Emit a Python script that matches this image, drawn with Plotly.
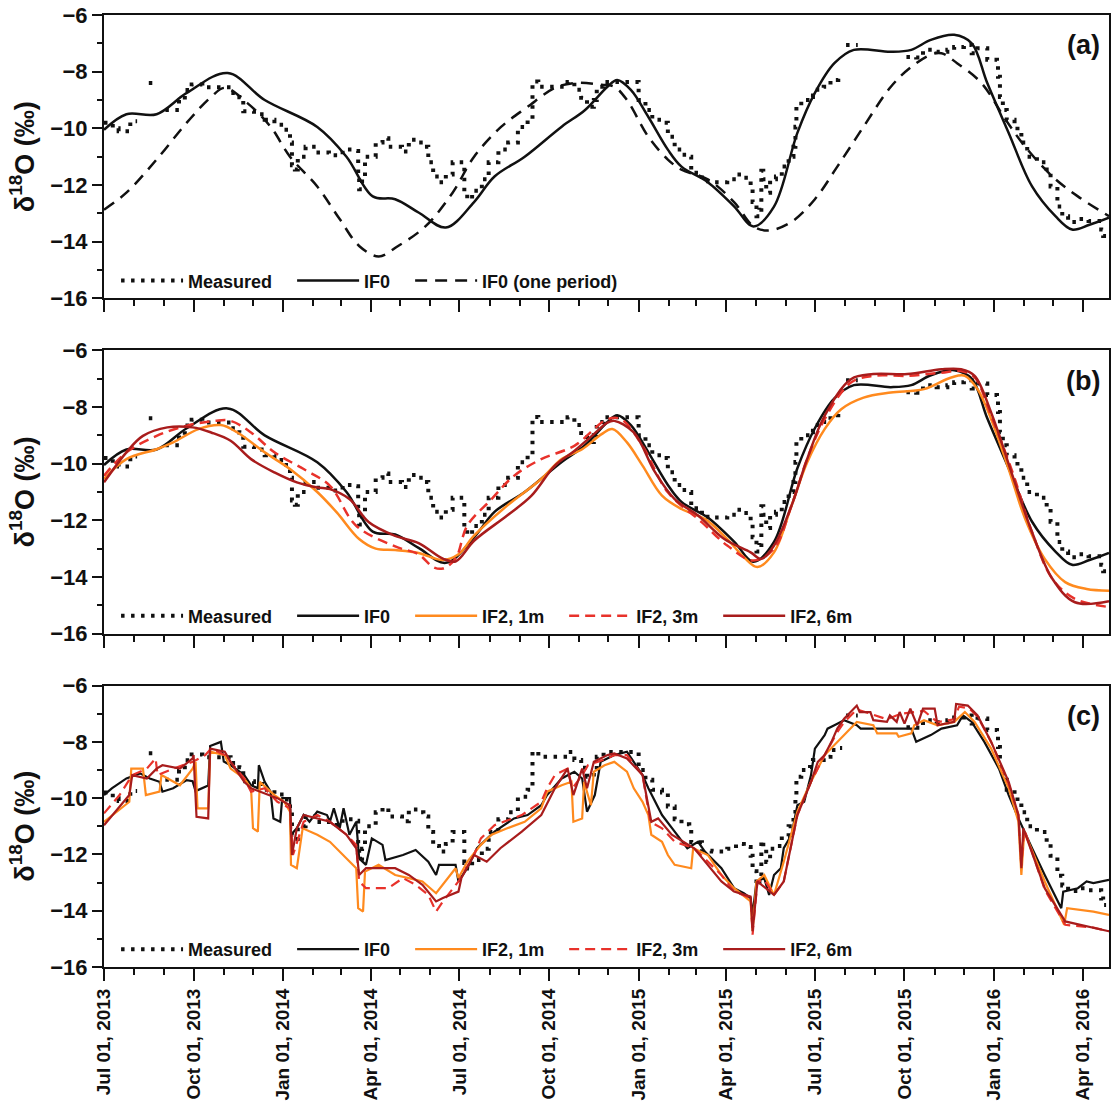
import plotly.graph_objects as go
from plotly.subplots import make_subplots

FONT = "Arial, 'Liberation Sans', Helvetica, sans-serif"

# ---------------- data ----------------
measured_dates = [
    "2013-07-01", "2013-07-10", "2013-07-16", "2013-07-28", "2013-08-04", "2013-08-10",
    "2013-08-16", "2013-08-25", "2013-08-28",
    "2013-09-02", "2013-09-16", "2013-09-22", "2013-09-29", "2013-10-10", "2013-11-08",
    "2013-11-17", "2013-11-21", "2013-12-02", "2013-12-13", "2013-12-23", "2014-01-02",
    "2014-01-08", "2014-01-10", "2014-01-13", "2014-01-16", "2014-01-24", "2014-02-04",
    "2014-02-17", "2014-03-03", "2014-03-16", "2014-03-19", "2014-03-20", "2014-03-23",
    "2014-03-26", "2014-04-06", "2014-04-13", "2014-04-19", "2014-05-03", "2014-05-10",
    "2014-05-20", "2014-05-25", "2014-05-30", "2014-06-04", "2014-06-10", "2014-06-17",
    "2014-06-24", "2014-07-06", "2014-07-09", "2014-07-14", "2014-07-24", "2014-07-31",
    "2014-08-10", "2014-08-20", "2014-08-30", "2014-09-09", "2014-09-14", "2014-09-20",
    "2014-10-20", "2014-10-27", "2014-11-03", "2014-11-09", "2014-11-16", "2014-11-19",
    "2014-11-26", "2015-01-01", "2015-01-08", "2015-01-15", "2015-01-25", "2015-01-31",
    "2015-02-07", "2015-02-14", "2015-02-22", "2015-02-24", "2015-03-07", "2015-03-17",
    "2015-04-02", "2015-04-11", "2015-04-19", "2015-04-26", "2015-04-28", "2015-05-02",
    "2015-05-05", "2015-05-07", "2015-05-09", "2015-05-12", "2015-05-16", "2015-05-22",
    "2015-05-28", "2015-06-04", "2015-06-09", "2015-06-11", "2015-06-12", "2015-06-17",
    "2015-06-26", "2015-06-29", "2015-07-10", "2015-07-17", "2015-07-25", "2015-07-29",
    "2015-07-31", "2015-08-02", "2015-08-14", "2015-08-20",
    "2015-10-03", "2015-10-13", "2015-10-20", "2015-11-03", "2015-11-14", "2015-11-21",
    "2015-12-01", "2015-12-09", "2015-12-15", "2015-12-25", "2016-01-04", "2016-01-05",
    "2016-01-07", "2016-01-10", "2016-01-14", "2016-01-22", "2016-01-25", "2016-01-29",
    "2016-02-04", "2016-02-14", "2016-02-24", "2016-02-28", "2016-03-06", "2016-03-11",
    "2016-03-17", "2016-03-27", "2016-04-07", "2016-04-20", "2016-04-22", "2016-04-25",
]
measured_vals = [
    -9.8, -10.0, -10.1, -9.75, -9.75, None,
    -8.4, -8.4, None,
    -9.35, -9.0, -8.65, -8.45, -8.55, -8.75,
    -8.9, -9.4, -9.5, -9.7, -9.87, -10.05,
    -10.5, -11.3, -11.45, -11.0, -10.65, -10.85,
    -10.95, -10.75, -10.8, -11.6, -12.15, -11.8,
    -11.0, -10.5, -10.35, -10.65, -10.82, -10.4,
    -10.5, -10.65, -11.2, -11.7, -11.9, -11.63,
    -11.2, -12.3, -12.5, -12.2, -11.8, -11.2,
    -10.75, -10.5, -9.95, -9.7, -8.35, -8.53,
    -8.36, -8.64, -8.92, -9.24, -9.0, -8.53,
    -8.36, -9.0, -9.35, -9.7, -9.8, -10.3,
    -10.75, -10.93, -11.0, -11.57, -11.87, -11.9,
    -11.8, -11.63, -11.74, -12.05, -12.6, -13.1,
    -12.87, -11.5, -11.8, -12.27, -11.8, -11.7,
    -11.35, -11.0, -10.65, -9.94, -9.24, -9.0,
    -8.89, -8.64, -8.53, -8.29, -8.22, -8.22,
    None, -7.06, -7.06, None,
    -7.48, -7.5, -7.23, -7.3, -7.23, -7.13,
    -7.06, -7.35, -7.17, -7.58, -7.65, -8.18,
    -8.89, -9.35, -9.7, -9.87, -10.16, -10.5,
    -11.0, -11.2, -11.57, -12.05, -12.76, -13.1,
    -13.3, -13.2, -13.27, -13.57, -13.8, -13.8,
]

if0_dates = [
    "2013-07-01", "2013-07-24", "2013-08-24", "2013-09-24", "2013-11-05", "2013-12-13",
    "2014-02-05", "2014-03-07", "2014-04-03", "2014-04-26", "2014-05-20", "2014-06-17",
    "2014-07-16", "2014-08-06", "2014-09-06", "2014-10-14", "2014-11-07", "2014-11-30",
    "2014-12-10", "2014-12-24", "2015-01-11", "2015-01-31", "2015-02-14", "2015-03-13",
    "2015-04-09", "2015-04-29", "2015-05-20", "2015-06-13", "2015-07-01", "2015-07-21",
    "2015-08-10", "2015-09-17", "2015-10-08", "2015-10-28", "2015-11-21", "2015-12-09",
    "2015-12-25", "2016-01-16", "2016-02-09", "2016-03-04", "2016-03-21", "2016-04-08",
    "2016-04-28",
]
if0_vals = [
    -10.05, -9.5, -9.5, -8.75, -8.05, -9.0,
    -9.95, -11.0, -12.4, -12.5, -12.97, -13.5,
    -12.6, -11.7, -11.0, -9.94, -9.35, -8.53,
    -8.29, -8.64, -9.6, -10.75, -11.35, -11.9,
    -12.75, -13.46, -12.76, -10.16, -8.75, -7.7,
    -7.23, -7.3, -7.23, -6.88, -6.7, -7.0,
    -8.4, -10.16, -12.05, -13.1, -13.57, -13.4,
    -13.15,
]

if0_one_dates = [
    "2013-07-01", "2013-07-24", "2013-08-24", "2013-09-24", "2013-10-19", "2013-11-02",
    "2013-11-25", "2013-12-19", "2014-01-08", "2014-02-05", "2014-02-28", "2014-03-20",
    "2014-04-09", "2014-04-29", "2014-05-27", "2014-06-24", "2014-07-16", "2014-08-13",
    "2014-09-09", "2014-10-07", "2014-10-27", "2014-11-24", "2014-12-07", "2014-12-20",
    "2015-01-11", "2015-01-31", "2015-02-14", "2015-03-13", "2015-04-09", "2015-04-29",
    "2015-05-15", "2015-06-07", "2015-07-01", "2015-07-24", "2015-08-20", "2015-09-17",
    "2015-10-08", "2015-10-28", "2015-11-08", "2015-11-24", "2015-12-19", "2016-01-13",
    "2016-02-02", "2016-03-01", "2016-03-27", "2016-04-28",
]
if0_one_vals = [
    -12.87, -12.27, -11.1, -9.8, -8.89, -8.57,
    -9.1, -9.94, -11.0, -12.05, -13.2, -14.15,
    -14.52, -14.15, -13.46, -12.27, -11.0, -9.94,
    -9.24, -8.57, -8.4, -8.46, -8.53, -9.0,
    -10.3, -11.1, -11.46, -11.8, -12.6, -13.46,
    -13.6, -13.3, -12.5, -11.35, -9.94, -8.53,
    -7.83, -7.4, -7.35, -7.7, -8.4, -9.7,
    -10.65, -11.7, -12.4, -13.1,
]

# panel (b): smooth IF2 curves
b1m_dates = [
    "2013-07-01", "2013-07-24", "2013-08-24", "2013-09-10", "2013-10-06", "2013-10-29",
    "2013-11-15", "2013-12-13", "2014-01-08", "2014-02-05", "2014-02-25", "2014-03-20",
    "2014-04-06", "2014-04-26", "2014-05-20", "2014-06-14", "2014-06-30", "2014-07-16",
    "2014-08-19", "2014-09-23", "2014-10-14", "2014-11-04", "2014-11-24", "2014-12-05",
    "2014-12-20", "2015-01-05", "2015-01-25", "2015-02-14", "2015-03-10", "2015-04-02",
    "2015-04-19", "2015-05-03", "2015-05-20", "2015-06-07", "2015-06-23", "2015-07-11",
    "2015-07-28", "2015-08-20", "2015-09-17", "2015-10-21", "2015-11-18", "2015-12-02",
    "2015-12-15", "2015-12-29", "2016-01-16", "2016-02-02", "2016-02-22", "2016-03-14",
    "2016-04-05", "2016-04-28",
]
b1m_vals = [
    -10.54, -9.84, -9.49, -9.25, -8.78, -8.64,
    -8.9, -9.6, -10.19, -11.0, -11.72, -12.66,
    -13.0, -13.05, -13.15, -13.4, -13.2, -12.54,
    -11.48, -10.54, -9.84, -9.49, -8.96, -8.78,
    -9.25, -10.07, -11.13, -11.6, -11.95, -12.66,
    -13.3, -13.65, -13.13, -11.48, -9.96, -8.78,
    -8.08, -7.67, -7.49, -7.37, -6.96, -6.9,
    -7.37, -8.43, -10.19, -11.95, -13.36, -14.18,
    -14.42, -14.48,
]

b3m_dates = [
    "2013-07-01", "2013-07-24", "2013-08-24", "2013-09-24", "2013-10-23", "2013-11-08",
    "2013-11-29", "2013-12-23", "2014-01-22", "2014-02-18", "2014-03-17", "2014-04-26",
    "2014-05-20", "2014-06-04", "2014-06-14", "2014-06-27", "2014-07-09", "2014-08-03",
    "2014-08-26", "2014-09-23", "2014-10-27", "2014-11-30", "2014-12-14", "2015-01-05",
    "2015-01-31", "2015-03-07", "2015-04-02", "2015-04-29", "2015-05-20", "2015-06-07",
    "2015-06-23", "2015-07-11", "2015-08-07", "2015-08-30", "2015-10-04", "2015-11-08",
    "2015-11-28", "2015-12-12", "2015-12-29", "2016-01-20", "2016-02-09", "2016-03-01",
    "2016-03-24", "2016-04-28",
]
b3m_vals = [
    -10.43, -9.6, -9.02, -8.66, -8.49, -8.49,
    -8.9, -9.6, -10.19, -10.78, -12.19, -12.92,
    -13.2, -13.65, -13.7, -13.35, -12.19, -11.25,
    -10.43, -9.84, -9.37, -8.43, -8.43, -9.37,
    -11.01, -12.07, -12.89, -13.42, -13.0, -11.48,
    -9.84, -8.43, -7.14, -6.9, -6.9, -6.79,
    -6.73, -6.96, -8.31, -10.31, -12.42, -14.07,
    -14.77, -15.06,
]

b6m_dates = [
    "2013-07-01", "2013-07-24", "2013-08-10", "2013-09-04", "2013-09-30", "2013-10-19",
    "2013-11-08", "2013-11-29", "2013-12-23", "2014-01-15", "2014-02-05", "2014-02-18",
    "2014-03-10", "2014-03-30", "2014-04-26", "2014-05-20", "2014-06-14", "2014-06-27",
    "2014-07-16", "2014-08-19", "2014-09-13", "2014-10-07", "2014-10-27", "2014-11-14",
    "2014-11-30", "2014-12-07", "2014-12-27", "2015-01-18", "2015-02-07", "2015-03-03",
    "2015-03-30", "2015-04-26", "2015-05-07", "2015-05-20", "2015-06-07", "2015-06-23",
    "2015-07-11", "2015-08-07", "2015-08-30", "2015-10-04", "2015-11-08", "2015-11-28",
    "2015-12-12", "2015-12-29", "2016-01-20", "2016-02-09", "2016-03-01", "2016-03-24",
    "2016-04-28",
]
b6m_vals = [
    -10.66, -9.6, -9.02, -8.72, -8.72, -8.9,
    -9.19, -9.84, -10.31, -10.66, -10.84, -10.9,
    -11.25, -12.07, -12.55, -12.8, -13.35, -13.45,
    -12.72, -11.83, -11.13, -10.07, -9.55, -9.02,
    -8.55, -8.49, -8.9, -10.31, -11.25, -11.83,
    -12.66, -13.13, -13.36, -12.89, -11.48, -9.84,
    -8.31, -7.02, -6.84, -6.84, -6.67, -6.67,
    -6.9, -8.2, -10.43, -12.42, -14.07, -14.89,
    -14.85,
]

# panel (c): daily-input runs (jagged)
c0_dates = [
    "2013-07-01", "2013-07-09", "2013-07-24", "2013-08-07", "2013-08-17", "2013-08-27",
    "2013-08-30", "2013-09-10", "2013-09-24", "2013-09-30", "2013-10-03", "2013-10-16",
    "2013-10-18", "2013-10-29", "2013-11-01", "2013-11-08", "2013-11-22", "2013-11-29",
    "2013-12-06", "2013-12-07", "2013-12-13", "2013-12-19", "2013-12-22", "2013-12-29",
    "2013-12-31", "2014-01-08", "2014-01-09", "2014-01-15", "2014-01-22", "2014-01-28",
    "2014-02-05", "2014-02-15", "2014-02-18", "2014-02-22", "2014-02-28", "2014-03-04",
    "2014-03-10", "2014-03-17", "2014-03-20", "2014-03-27", "2014-04-02", "2014-04-13",
    "2014-04-16", "2014-05-04", "2014-05-17", "2014-05-30", "2014-06-07", "2014-06-10",
    "2014-06-27", "2014-06-30", "2014-07-09", "2014-07-19", "2014-08-06", "2014-08-26",
    "2014-09-09", "2014-09-23", "2014-09-29", "2014-10-14", "2014-10-27", "2014-11-04",
    "2014-11-09", "2014-11-17", "2014-11-23", "2014-12-07", "2014-12-20", "2014-12-27",
    "2015-01-05", "2015-01-11", "2015-01-25", "2015-02-07", "2015-02-20", "2015-03-03",
    "2015-03-10", "2015-03-27", "2015-04-09", "2015-04-19", "2015-04-26", "2015-04-28",
    "2015-05-02", "2015-05-10", "2015-05-15", "2015-05-20", "2015-05-27", "2015-05-30",
    "2015-06-07", "2015-06-13", "2015-06-20", "2015-06-27", "2015-07-01", "2015-07-11",
    "2015-07-14", "2015-07-21", "2015-07-31", "2015-08-13", "2015-08-17", "2015-09-17",
    "2015-10-08", "2015-10-13", "2015-10-21", "2015-10-28", "2015-11-08", "2015-11-24",
    "2015-11-30", "2015-12-09", "2015-12-22", "2016-01-06", "2016-01-16", "2016-01-26",
    "2016-02-09", "2016-02-22", "2016-03-10", "2016-03-12", "2016-03-27", "2016-04-05",
    "2016-04-12", "2016-04-28",
]
c0_vals = [
    -9.89, -9.65, -9.3, -9.12, -9.3, -9.42,
    -9.77, -9.65, -9.36, -9.4, -9.75, -9.55,
    -8.15, -8.0, -8.7, -8.83, -9.18, -9.54,
    -9.65, -8.83, -9.42, -9.77, -10.72, -10.84,
    -10.0, -10.0, -11.3, -11.07, -10.6, -10.84,
    -10.48, -10.6, -10.84, -10.36, -11.07, -10.36,
    -11.3, -10.84, -12.14, -12.37, -11.43, -11.66,
    -12.2, -12.02, -11.84, -12.26, -12.73, -12.37,
    -12.37, -12.96, -12.49, -11.78, -11.19, -10.72,
    -10.6, -10.25, -9.89, -9.3, -9.06, -9.3,
    -10.48, -9.89, -8.71, -8.47, -8.35, -8.71,
    -9.18, -9.65, -10.6, -11.19, -11.78, -11.55,
    -11.9, -12.49, -13.2, -13.38, -13.55, -14.15,
    -12.96, -12.84, -13.44, -12.73, -12.49, -11.78,
    -11.3, -10.25, -10.13, -9.18, -8.24, -7.76,
    -7.53, -7.41, -7.23, -7.41, -7.53, -7.53,
    -7.53, -8.0, -7.88, -7.76, -7.53, -7.41,
    -7.06, -7.29, -8.0, -8.95, -9.89, -10.72,
    -11.78, -12.73, -13.91, -13.32, -13.2, -12.96,
    -13.02, -12.9,
]

c1m_dates = [
    "2013-07-01", "2013-07-27", "2013-07-29", "2013-08-10", "2013-08-13", "2013-08-27",
    "2013-08-29", "2013-09-17", "2013-09-30", "2013-10-03", "2013-10-05", "2013-10-16",
    "2013-10-18", "2013-11-02", "2013-11-08", "2013-11-22", "2013-11-29", "2013-12-01",
    "2013-12-06", "2013-12-08", "2013-12-23", "2014-01-02", "2014-01-08", "2014-01-09",
    "2014-01-15", "2014-01-21", "2014-02-05", "2014-02-18", "2014-03-17", "2014-03-19",
    "2014-03-24", "2014-03-26", "2014-04-09", "2014-04-26", "2014-05-10", "2014-05-24",
    "2014-06-07", "2014-06-14", "2014-06-27", "2014-06-30", "2014-07-09", "2014-07-23",
    "2014-08-03", "2014-08-19", "2014-09-06", "2014-09-23", "2014-09-29", "2014-10-14",
    "2014-10-24", "2014-10-26", "2014-11-04", "2014-11-06", "2014-11-13", "2014-11-16",
    "2014-11-27", "2014-12-07", "2014-12-20", "2014-12-27", "2015-01-05", "2015-01-11",
    "2015-01-14", "2015-01-25", "2015-01-31", "2015-02-07", "2015-02-24", "2015-02-26",
    "2015-03-13", "2015-03-27", "2015-04-09", "2015-04-26", "2015-04-28", "2015-05-02",
    "2015-05-10", "2015-05-20", "2015-05-30", "2015-06-13", "2015-06-27", "2015-07-11",
    "2015-07-28", "2015-08-13", "2015-08-30", "2015-09-03", "2015-09-23", "2015-09-25",
    "2015-10-08", "2015-10-11", "2015-10-21", "2015-11-04", "2015-11-21", "2015-12-02",
    "2015-12-12", "2015-12-29", "2016-01-16", "2016-01-26", "2016-01-29", "2016-02-01",
    "2016-02-22", "2016-03-13", "2016-03-16", "2016-04-12", "2016-04-28",
]
c1m_vals = [
    -10.84, -10.13, -8.95, -8.95, -9.89, -9.77,
    -9.18, -9.54, -8.95, -8.71, -10.36, -10.36,
    -8.35, -8.47, -8.95, -9.3, -9.65, -11.07,
    -11.19, -9.42, -9.89, -10.13, -10.48, -12.37,
    -12.49, -11.07, -11.3, -11.55, -12.49, -13.91,
    -14.03, -12.61, -12.37, -12.73, -12.84, -12.96,
    -13.38, -13.08, -12.49, -12.84, -12.26, -11.66,
    -11.3, -11.07, -10.84, -10.36, -9.77, -9.54,
    -9.42, -10.84, -10.72, -9.42, -10.25, -9.06,
    -8.83, -8.71, -9.06, -9.65, -10.13, -10.6,
    -11.3, -11.55, -12.02, -12.37, -12.49, -11.78,
    -12.02, -12.73, -13.2, -13.67, -14.73, -12.96,
    -12.73, -13.44, -12.26, -10.48, -9.42, -8.47,
    -7.88, -7.29, -7.41, -7.7, -7.7, -7.82,
    -7.7, -7.41, -7.23, -7.41, -7.29, -6.94,
    -7.29, -8.24, -9.65, -10.84, -12.73, -11.19,
    -12.96, -14.5, -13.91, -14.03, -14.15,
]

c3m_dates = [
    "2013-07-01", "2013-07-17", "2013-07-30", "2013-08-14", "2013-08-23", "2013-08-25",
    "2013-09-10", "2013-09-30", "2013-10-13", "2013-10-19", "2013-11-02", "2013-11-22",
    "2013-11-29", "2013-12-13", "2013-12-26", "2014-01-08", "2014-01-11", "2014-01-22",
    "2014-02-05", "2014-02-18", "2014-03-07", "2014-03-17", "2014-03-20", "2014-03-27",
    "2014-04-19", "2014-05-04", "2014-05-17", "2014-05-30", "2014-06-07", "2014-06-14",
    "2014-06-30", "2014-07-16", "2014-07-23", "2014-08-06", "2014-09-03", "2014-09-23",
    "2014-09-29", "2014-10-07", "2014-10-20", "2014-10-25", "2014-11-04", "2014-11-10",
    "2014-11-30", "2014-12-07", "2014-12-20", "2015-01-05", "2015-01-13", "2015-01-25",
    "2015-02-07", "2015-02-27", "2015-03-27", "2015-04-09", "2015-04-26", "2015-04-28",
    "2015-05-03", "2015-05-10", "2015-05-20", "2015-05-30", "2015-06-13", "2015-06-27",
    "2015-07-11", "2015-07-24", "2015-07-31", "2015-08-13", "2015-08-27", "2015-09-13",
    "2015-09-27", "2015-10-08", "2015-10-21", "2015-11-04", "2015-11-21", "2015-11-26",
    "2015-12-06", "2015-12-15", "2015-12-29", "2016-01-16", "2016-01-26", "2016-01-29",
    "2016-02-01", "2016-02-22", "2016-03-14", "2016-04-12", "2016-04-28",
]
c3m_vals = [
    -10.54, -9.89, -9.18, -8.95, -8.59, -9.18,
    -8.95, -8.71, -8.47, -8.24, -8.47, -9.3,
    -9.77, -9.65, -10.13, -10.36, -12.02, -10.84,
    -10.6, -10.84, -11.3, -11.66, -12.96, -13.2,
    -13.2, -12.84, -13.08, -13.44, -14.03, -13.67,
    -12.96, -12.02, -11.43, -10.96, -10.6, -10.13,
    -9.65, -9.18, -8.95, -9.65, -9.18, -8.83,
    -8.59, -8.47, -8.47, -9.18, -10.84, -11.07,
    -11.55, -11.78, -12.73, -13.32, -13.55, -14.85,
    -12.96, -12.9, -13.44, -12.96, -10.6, -9.42,
    -8.47, -7.65, -7.3, -6.85, -7.0, -7.2,
    -7.0, -6.95, -6.9, -7.3, -7.2, -6.75,
    -6.8, -7.1, -8.0, -9.5, -10.6, -12.4,
    -11.1, -13.25, -14.5, -14.6, -14.73,
]

c6m_dates = [
    "2013-07-01", "2013-07-27", "2013-07-30", "2013-08-14", "2013-08-24", "2013-08-30",
    "2013-09-17", "2013-09-30", "2013-10-01", "2013-10-04", "2013-10-16", "2013-10-18",
    "2013-11-02", "2013-11-08", "2013-11-22", "2013-11-29", "2013-12-26", "2014-01-08",
    "2014-01-10", "2014-01-15", "2014-01-22", "2014-02-05", "2014-02-18", "2014-03-07",
    "2014-03-17", "2014-03-20", "2014-03-27", "2014-04-26", "2014-05-10", "2014-05-24",
    "2014-06-07", "2014-06-14", "2014-06-30", "2014-07-03", "2014-07-16", "2014-07-29",
    "2014-08-12", "2014-09-03", "2014-09-23", "2014-10-07", "2014-10-20", "2014-10-26",
    "2014-11-04", "2014-11-09", "2014-11-16", "2014-11-30", "2014-12-07", "2014-12-20",
    "2015-01-05", "2015-01-14", "2015-01-21", "2015-02-04", "2015-02-27", "2015-03-27",
    "2015-04-09", "2015-04-26", "2015-04-28", "2015-05-03", "2015-05-20", "2015-05-30",
    "2015-06-13", "2015-06-27", "2015-07-04", "2015-07-11", "2015-07-18", "2015-07-24",
    "2015-07-31", "2015-08-13", "2015-08-16", "2015-08-27", "2015-08-30", "2015-09-13",
    "2015-09-16", "2015-09-23", "2015-09-26", "2015-10-01", "2015-10-07", "2015-10-14",
    "2015-10-20", "2015-11-01", "2015-11-04", "2015-11-21", "2015-11-23", "2015-12-05",
    "2015-12-15", "2015-12-29", "2016-01-16", "2016-01-26", "2016-01-29", "2016-01-31",
    "2016-02-22", "2016-03-14", "2016-04-12", "2016-04-28",
]
c6m_vals = [
    -10.96, -9.89, -9.18, -9.3, -8.95, -8.83,
    -8.95, -8.59, -8.47, -10.66, -10.72, -8.24,
    -8.35, -8.71, -9.42, -9.65, -10.0, -10.25,
    -12.02, -11.07, -10.6, -10.72, -10.84, -11.3,
    -11.78, -12.73, -12.49, -12.49, -12.73, -13.08,
    -13.67, -13.55, -13.32, -12.84, -12.02, -12.26,
    -11.78, -11.19, -10.6, -9.65, -8.95, -9.89,
    -8.95, -9.65, -8.71, -8.47, -8.41, -8.59,
    -9.18, -10.84, -10.72, -11.3, -11.78, -12.96,
    -13.32, -13.5, -14.73, -12.96, -13.44, -12.96,
    -10.6, -9.42, -8.71, -8.47, -8.0, -7.53,
    -7.18, -6.71, -6.94, -6.94, -7.23, -7.29,
    -7.06, -7.29, -6.94, -7.35, -6.82, -7.41,
    -6.82, -6.82, -7.41, -7.29, -6.65, -6.71,
    -7.06, -8.0, -9.42, -10.6, -12.49, -11.07,
    -13.2, -14.38, -14.61, -14.73,
]

panel_labels = ["(a)", "(b)", "(c)"]
x_range = ["2013-07-01", "2016-04-28"]
y_ticks = [-16, -14, -12, -10, -8, -6]
y_ticktext = ["\u221216", "\u221214", "\u221212", "\u221210", "\u22128", "\u22126"]

# ---------------- styles ----------------
BLACK = "#111111"
ORANGE = "#FF8A1E"
RED = "#E8322B"
DARKRED = "#A81C1C"
MEAS_LINE = dict(color=BLACK, width=4, dash="3.5px,6.5px")
PAD = "\u00a0\u00a0\u00a0"   # spacing after each legend entry

fig = make_subplots(rows=3, cols=1)

def add(row, x, y, name, line, legend, shape="linear"):
    fig.add_trace(go.Scatter(x=x, y=y, name=name + PAD, mode="lines",
                             line=dict(line, shape=shape),
                             legend=legend, connectgaps=False), row=row, col=1)

# panel a
add(1, measured_dates, measured_vals, "Measured", MEAS_LINE, "legend", shape="hv")
add(1, if0_dates, if0_vals, "IF0", dict(color=BLACK, width=2.5), "legend", shape="spline")
add(1, if0_one_dates, if0_one_vals, "IF0 (one period)",
    dict(color=BLACK, width=2.5, dash="12px,8px"), "legend", shape="spline")
# panel b
add(2, measured_dates, measured_vals, "Measured", MEAS_LINE, "legend2", shape="hv")
add(2, if0_dates, if0_vals, "IF0", dict(color=BLACK, width=2.5), "legend2", shape="spline")
add(2, b1m_dates, b1m_vals, "IF2, 1m", dict(color=ORANGE, width=2.5), "legend2", shape="spline")
add(2, b3m_dates, b3m_vals, "IF2, 3m", dict(color=RED, width=2.5, dash="10px,6px"), "legend2", shape="spline")
add(2, b6m_dates, b6m_vals, "IF2, 6m", dict(color=DARKRED, width=2.5), "legend2", shape="spline")
# panel c
add(3, measured_dates, measured_vals, "Measured", MEAS_LINE, "legend3", shape="hv")
add(3, c0_dates, c0_vals, "IF0", dict(color=BLACK, width=2.2), "legend3")
add(3, c1m_dates, c1m_vals, "IF2, 1m", dict(color=ORANGE, width=2.2), "legend3")
add(3, c3m_dates, c3m_vals, "IF2, 3m", dict(color=RED, width=2.2, dash="10px,6px"), "legend3")
add(3, c6m_dates, c6m_vals, "IF2, 6m", dict(color=DARKRED, width=2.2), "legend3")

# ---------------- layout ----------------
L, R, T, B = 104, 2, 15, 134
W, H = 1113, 1103
plot_h = H - T - B
def fy(px):  # pixel y (from top) -> paper fraction
    return (H - B - px) / plot_h

domains = [(fy(299), fy(15)), (fy(635), fy(351)), (fy(969), fy(687))]

tickfont = dict(family=FONT, size=22, color=BLACK, weight="bold")
for i in range(3):
    ax = "" if i == 0 else str(i + 1)
    fig.layout["yaxis" + ax].update(
        domain=list(domains[i]), range=[-16, -6], tickvals=y_ticks, ticktext=y_ticktext,
        ticks="outside", ticklen=10, tickwidth=2, tickcolor=BLACK,
        minor=dict(dtick=1, ticks="outside", ticklen=5, tickwidth=2, tickcolor=BLACK),
        showline=True, linewidth=2, linecolor=BLACK, mirror=True,
        showgrid=False, zeroline=False, tickfont=tickfont,
        title=dict(text="\u03b4<sup>18</sup>O (\u2030)", standoff=8,
                   font=dict(family=FONT, size=27, color=BLACK, weight="bold")),
    )
    fig.layout["xaxis" + ax].update(
        type="date", range=x_range, dtick="M3", tick0="2013-07-01",
        tickformat="%b %d, %Y", tickangle=-90,
        ticks="outside", ticklen=12, tickwidth=2, tickcolor=BLACK,
        minor=dict(dtick="M1", ticks="outside", ticklen=6, tickwidth=2, tickcolor=BLACK),
        showline=True, linewidth=2, linecolor=BLACK, mirror=True,
        showgrid=False, zeroline=False, showticklabels=(i == 2),
        tickfont=dict(family=FONT, size=19, color=BLACK, weight="bold"),
        anchor="y" + ax,
    )
    fig.add_annotation(text=panel_labels[i], xref="paper", yref="paper",
                       x=0.993, y=domains[i][1] - 0.014, xanchor="right", yanchor="top",
                       showarrow=False,
                       font=dict(family=FONT, size=27, color=BLACK, weight="bold"))

legend_style = dict(orientation="h", xanchor="left", yanchor="bottom", x=0.012,
                    bgcolor="rgba(0,0,0,0)", itemwidth=62,
                    font=dict(family=FONT, size=18, color=BLACK, weight="bold"),
                    tracegroupgap=0)
fig.update_layout(
    width=W, height=H, margin=dict(l=L, r=R, t=T, b=B),
    paper_bgcolor="white", plot_bgcolor="white",
    legend=dict(legend_style, y=domains[0][0] - 0.001),
    legend2=dict(legend_style, y=domains[1][0] - 0.001),
    legend3=dict(legend_style, y=domains[2][0] - 0.001),
)

fig.write_html("out.html", config={"displayModeBar": False},
               post_script="document.body.style.margin='0px';document.body.style.overflow='hidden';")
